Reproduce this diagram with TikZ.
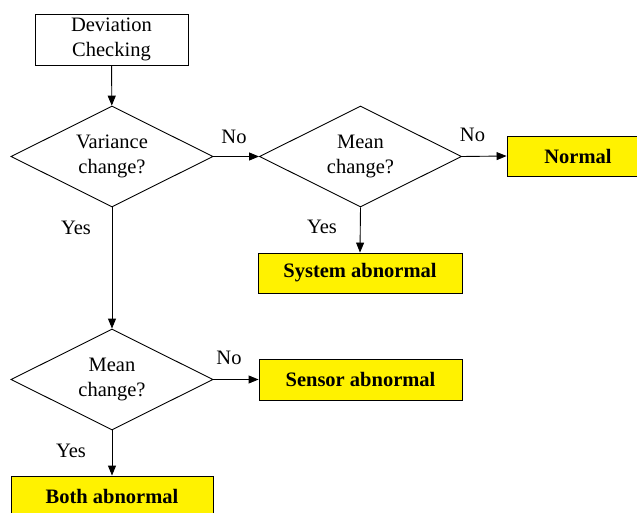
\documentclass[tikz,border=0pt]{standalone}
\usepackage{fontspec}
\setmainfont{Liberation Serif}
\newfontfamily\tnr{Liberation Serif}
\usetikzlibrary{shapes.geometric,arrows.meta}
\begin{document}
\begin{tikzpicture}[x=1pt,y=-1pt,
  every node/.style={font=\tnr\fontsize{20.5}{25}\selectfont},
  plainbox/.style={draw=black,line width=0.9pt,rectangle,align=center,inner sep=0pt},
  resbox/.style={draw=black,line width=0.9pt,fill=yellow,rectangle,align=center,inner sep=0pt,font=\tnr\fontsize{20.5}{25}\selectfont\bfseries},
  decision/.style={draw=black,line width=0.9pt,diamond,aspect=2,inner sep=0pt,align=center,minimum width=202pt,minimum height=101pt},
  flow/.style={line width=0.9pt,-{Triangle[length=10pt,width=8pt]}},
  lbl/.style={inner sep=0pt}]
\useasboundingbox (0,0) rectangle (637,513);
\node[plainbox,minimum width=153pt,minimum height=51pt] (dev) at (111.5,39.5) {Deviation\\Checking};
\node[decision] (d1) at (112,156.5) {Variance\\change?};
\node[decision] (d2) at (360.5,156.5) {Mean\\change?};
\node[decision] (d3) at (112,379.5) {Mean\\change?};
\node[resbox,minimum width=142pt,minimum height=40pt] (normal) at (578,156) {Normal};
\node[resbox,minimum width=204pt,minimum height=40pt] (sys) at (360,273) {System abnormal};
\node[resbox,minimum width=203pt,minimum height=41pt] (sensor) at (360.5,379.5) {Sensor abnormal};
\node[resbox,minimum width=202pt,minimum height=40pt] (both) at (112,496) {Both abnormal};
\draw[flow] (dev) -- (d1);
\draw[flow] (d1.east) -- (d2.west);
\draw[flow] (d2.east) -- (normal.west);
\draw[flow] (d2.south) -- (sys.north);
\draw[flow] (d1.south) -- (d3.north);
\draw[flow] (d3.east) -- (sensor.west);
\draw[flow] (d3.south) -- (both.north);
\node[lbl] (n1) at (234,137) {No};
\node[lbl] (n2) at (472.5,135) {No};
\node[lbl] (y2) at (322,227) {Yes};
\node[lbl] (y1) at (76,228) {Yes};
\node[lbl] (n3) at (229,358) {No};
\node[lbl] (y3) at (71,451) {Yes};
\end{tikzpicture}
\end{document}
